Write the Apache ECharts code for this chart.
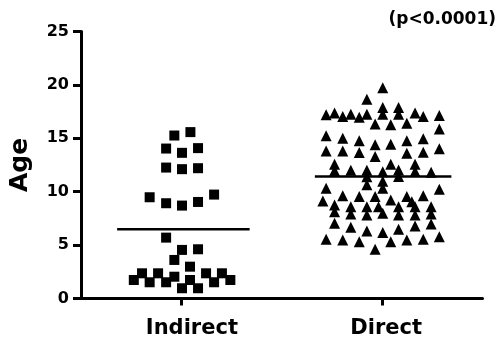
<!DOCTYPE html>
<html>
<head>
<meta charset="utf-8">
<script src="https://cdn.jsdelivr.net/npm/echarts@6/dist/echarts.min.js"></script>
<style>
html,body{margin:0;padding:0;background:#fff;}
#c{width:503px;height:337px;}
</style>
</head>
<body>
<div id="c"></div>
<script>
var categories = ['Indirect', 'Direct'];
var yTicks = [0, 5, 10, 15, 20, 25];
var pValueText = '(p<0.0001)';
var yAxisTitle = 'Age';

// Indirect group (squares): x = jitter around category 0
var indirectX = [-0.035, 0.045, -0.076, 0.003, 0.083, -0.076, 0.003, 0.083, -0.158, -0.076, 0.003, 0.083, 0.163,
  -0.076, 0.003, 0.083, -0.035, 0.043, -0.237, -0.196, -0.158, -0.116, -0.076, -0.035, 0.003, 0.043, 0.083, 0.123, 0.163, 0.202, 0.244];
var indirectY = [15.26, 15.58, 14.04, 13.64, 14.08, 12.26, 12.11, 12.20, 9.48, 8.92, 8.70, 9.04, 9.73,
  5.70, 4.55, 4.61, 3.61, 2.98, 1.73, 2.36, 1.52, 2.36, 1.52, 2.04, 0.96, 1.73, 0.96, 2.36, 1.52, 2.36, 1.73];
var indirectMean = 6.49;

// Direct group (triangles): x = jitter around category 1
var directX = [1.003, 0.924,
  0.721, 0.763, 0.804, 0.844, 0.886, 0.924, 1.003, 1.003, 1.082, 1.082, 1.164, 1.205, 1.285,
  0.965, 1.043, 1.123, 1.285,
  0.721, 0.804, 0.886, 0.965, 1.043, 1.123, 1.205,
  0.721, 0.804, 0.886, 0.965, 1.123, 1.205, 1.285,
  0.763, 0.763, 0.844, 0.924, 0.924, 0.924, 1.003, 1.003, 1.003, 1.043, 1.082, 1.082, 1.164, 1.164, 1.244,
  0.721, 1.285,
  0.705, 0.804, 0.886, 0.965, 1.043, 1.123, 1.205, 1.148,
  0.763, 0.763, 0.844, 0.844, 0.924, 0.924, 0.982, 1.003, 1.082, 1.082, 1.164, 1.164, 1.244, 1.244,
  0.763, 0.844, 0.924, 1.003, 1.082, 1.164, 1.244,
  0.721, 0.804, 0.886, 0.965, 1.043, 1.123, 1.205, 1.285];
var directY = [19.73, 18.65,
  17.20, 17.36, 17.04, 17.26, 16.98, 17.26, 17.88, 17.26, 17.88, 17.26, 17.36, 17.04, 17.13,
  16.33, 16.26, 16.42, 15.86,
  15.23, 15.01, 14.76, 14.39, 14.45, 14.76, 14.95,
  13.82, 13.82, 13.66, 13.29, 13.61, 13.70, 14.01,
  12.58, 11.95, 12.00, 12.00, 11.39, 10.64, 11.86, 10.97, 10.33, 12.58, 12.04, 11.43, 12.58, 11.90, 11.81,
  10.33, 10.23,
  9.14, 9.61, 9.54, 9.54, 9.23, 9.54, 9.61, 9.07,
  8.76, 8.13, 8.60, 7.92, 8.60, 7.83, 8.60, 7.99, 8.60, 7.83, 8.60, 7.83, 8.60, 7.92,
  7.05, 6.67, 6.33, 6.17, 6.49, 6.79, 6.98,
  5.55, 5.48, 5.32, 4.61, 5.32, 5.48, 5.55, 5.79];
var directMean = 11.42;

function zip(xs, ys) { return xs.map(function (x, i) { return [x, ys[i]]; }); }

var FONT = 'DejaVu Sans';
var labelBase = { color: '#000', fontFamily: FONT, fontWeight: 'bold', fontSize: 21 };
var chart = echarts.init(document.getElementById('c'), null, { renderer: 'canvas' });
chart.setOption({
  backgroundColor: '#ffffff',
  animation: false,
  grid: { left: 81, right: 20.5, top: 31.5, bottom: 38.5, containLabel: false, outerBoundsMode: 'none' },
  graphic: [{
    type: 'text', right: 7, top: 11,
    style: { text: pValueText, font: 'bold 17px "' + FONT + '"', fill: '#000' }
  }],
  xAxis: [{
    type: 'category', data: categories, boundaryGap: true,
    axisLine: { show: true, onZero: false, lineStyle: { color: '#000', width: 3 } },
    axisTick: { show: true, alignWithLabel: true, length: 7, lineStyle: { color: '#000', width: 3 } },
    axisLabel: {
      color: '#000', fontFamily: FONT, fontWeight: 'bold', fontSize: 21, margin: 20,
      formatter: function (v) { return v === categories[0] ? '{a|' + v + '}' : '{b|' + v + '}'; },
      rich: {
        a: Object.assign({ padding: [0, 0, 0, 21] }, labelBase),
        b: Object.assign({ padding: [0, 0, 0, 8] }, labelBase)
      }
    },
    splitLine: { show: false }
  }, {
    type: 'value', min: -0.5, max: 1.5, show: false
  }],
  yAxis: {
    type: 'value', min: 0, max: 25, interval: 5,
    name: yAxisTitle, nameLocation: 'middle', nameGap: 48, nameRotate: 90,
    nameTextStyle: { color: '#000', fontFamily: FONT, fontWeight: 'bold', fontSize: 25 },
    axisLine: { show: true, onZero: false, lineStyle: { color: '#000', width: 3 } },
    axisTick: { show: true, length: 8, lineStyle: { color: '#000', width: 3 } },
    axisLabel: { color: '#000', fontFamily: FONT, fontWeight: 'bold', fontSize: 16, margin: 12,
      formatter: function (v) { return yTicks.indexOf(v) >= 0 ? String(v) : ''; } },
    splitLine: { show: false }
  },
  series: [{
    type: 'scatter', xAxisIndex: 1, symbol: 'rect', symbolSize: 10,
    itemStyle: { color: '#000', opacity: 1 }, data: zip(indirectX, indirectY)
  }, {
    type: 'scatter', xAxisIndex: 1, symbol: 'triangle', symbolSize: 11,
    itemStyle: { color: '#000', opacity: 1 }, data: zip(directX, directY)
  }, {
    type: 'line', xAxisIndex: 1, symbol: 'none', lineStyle: { color: '#000', width: 2.5 },
    data: [[-0.32, indirectMean], [0.34, indirectMean]]
  }, {
    type: 'line', xAxisIndex: 1, symbol: 'none', lineStyle: { color: '#000', width: 2.5 },
    data: [[1 - 0.335, directMean], [1 + 0.345, directMean]]
  }]
});
</script>
</body>
</html>
